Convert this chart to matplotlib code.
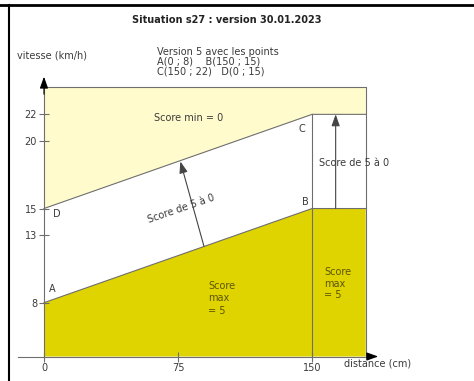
import numpy as np
import matplotlib
matplotlib.use('Agg')
import matplotlib.pyplot as plt
from matplotlib.lines import Line2D

# key points of the scoring zones (distance in cm, speed in km/h)
pt_A = (0, 8)
pt_B = (150, 15)
pt_C = (150, 22)
pt_D = (0, 15)
x_end = 180
y_top = 24

x_ticks = [0, 75, 150]
y_ticks = [8, 13, 15, 20, 22]

title = "Situation s27 : version 30.01.2023"
header = ["Version 5 avec les points",
          "A(0 ; 8)    B(150 ; 15)",
          "C(150 ; 22)   D(0 ; 15)"]

light = '#fffbcc'
dark = '#dfd300'
grey = '#6e6e6e'
txt = '#3a3a3a'
olive = '#5c5500'


# speed axis is squeezed below 8 km/h
def fwd(y):
    y = np.asarray(y, dtype=float)
    return np.where(y < 8, y / 2, y - 4)


def inv(t):
    t = np.asarray(t, dtype=float)
    return np.where(t < 4, t * 2, t + 4)


fig = plt.figure(figsize=(4.74, 3.81), dpi=100)
ax = fig.add_axes([0, 0, 1, 1])
ax.set_yscale('function', functions=(fwd, inv))
ax.set_xlim(-24.6, 240.6)
ax.set_ylim(-3.64, 30.5)
ax.patch.set_alpha(0)

# zones
ax.fill([pt_D[0], pt_C[0], x_end, x_end, 0],
        [pt_D[1], pt_C[1], pt_C[1], y_top, y_top],
        color=light, lw=0, zorder=1)
ax.fill([0, pt_A[0], pt_B[0], x_end, x_end],
        [0, pt_A[1], pt_B[1], pt_B[1], 0],
        color=dark, lw=0, zorder=1)

# zone borders
lw = 0.8
ax.plot([pt_D[0], pt_C[0], x_end], [pt_D[1], pt_C[1], pt_C[1]], color=grey, lw=lw, zorder=2)
ax.plot([pt_A[0], pt_B[0], x_end], [pt_A[1], pt_B[1], pt_B[1]], color=grey, lw=lw, zorder=2)
ax.plot([0, x_end, x_end], [y_top, y_top, 0], color=grey, lw=lw, zorder=2)
ax.plot([pt_B[0], pt_C[0]], [0, pt_C[1]], color=grey, lw=lw, zorder=2)

# axes through the origin
for side in ['top', 'right']:
    ax.spines[side].set_visible(False)
ax.spines['left'].set_position(('data', 0))
ax.spines['bottom'].set_position(('data', 0))
ax.spines['left'].set_bounds(-0.2, 24.2)
ax.spines['bottom'].set_bounds(-14.5, 182)
for side in ['left', 'bottom']:
    ax.spines[side].set_color(grey)
    ax.spines[side].set_linewidth(lw)
    ax.spines[side].set_zorder(3)

ax.set_xticks(x_ticks)
ax.set_xticklabels([str(v) for v in x_ticks])
ax.set_yticks(y_ticks)
ax.set_yticklabels([str(v) for v in y_ticks])
ax.minorticks_off()
ax.tick_params(direction='inout', length=7, width=0.8, color=grey,
               labelsize=7, labelcolor=txt, pad=1.5)

head = dict(arrowstyle='-|>,head_length=0.7,head_width=0.25', color='black',
            lw=0.8, mutation_scale=10, shrinkA=0, shrinkB=0)
ax.annotate('', xy=(0, 24.8), xytext=(0, 23.5), arrowprops=head, zorder=4)
ax.annotate('', xy=(187, 0), xytext=(181, 0), arrowprops=head, zorder=4)

ax.text(-15, 26.4, "vitesse (km/h)", fontsize=7, color=txt, ha='left', va='center')
ax.text(168, -1.1, "distance (cm)", fontsize=7, color=txt, ha='left', va='center')

# arrows across the graded band
band = dict(arrowstyle='-|>,head_length=0.7,head_width=0.25', color='#444444',
            lw=0.8, mutation_scale=10, shrinkA=0, shrinkB=0)
ax.annotate('', xy=(76.3, 18.5), xytext=(89.5, 12.2), arrowprops=band, zorder=4)
ax.annotate('', xy=(163.2, 22), xytext=(163.2, 15), arrowprops=band, zorder=4)

# zone labels
ax.text(81, 21.7, "Score min = 0", fontsize=7, color=txt, ha='center', va='center', zorder=5)
ax.text(76.7, 15.0, "Score de 5 à 0", fontsize=7, color=txt, ha='center', va='center',
        rotation=19, rotation_mode='anchor', zorder=5)
ax.text(173.5, 18.4, "Score de 5 à 0", fontsize=7, color=txt, ha='center', va='center', zorder=5)
ax.text(91.8, 8.33, "Score\nmax\n= 5", fontsize=7, color=olive, ha='left', va='center',
        linespacing=1.3, zorder=5)
ax.text(156.7, 9.4, "Score\nmax\n= 5", fontsize=7, color=olive, ha='left', va='center',
        linespacing=1.2, zorder=5)

ax.text(pt_A[0] + 4.7, 9.0, "A", fontsize=7, color=txt, ha='center', va='center', zorder=5)
ax.text(pt_B[0] - 4, 15.5, "B", fontsize=7, color=txt, ha='center', va='center', zorder=5)
ax.text(pt_C[0] - 5.8, 20.9, "C", fontsize=7, color=txt, ha='center', va='center', zorder=5)
ax.text(pt_D[0] + 7, 14.6, "D", fontsize=7, color=txt, ha='center', va='center', zorder=5)

# header
fig.text(227 / 474, 1 - 20 / 381, title, fontsize=7, fontweight='bold', color='#222222',
         ha='center', va='center')
for i, line in enumerate(header):
    fig.text(157 / 474, 1 - (52 + 10 * i) / 381, line, fontsize=7, color=txt,
             ha='left', va='center')

# frame lines
fig.add_artist(Line2D([0, 1], [1 - 4.5 / 381] * 2, transform=fig.transFigure,
                      color='black', lw=2))
fig.add_artist(Line2D([8.5 / 474] * 2, [0, 1 - 4.5 / 381], transform=fig.transFigure,
                      color='black', lw=1.5))

fig.savefig('out.png', dpi=100)
